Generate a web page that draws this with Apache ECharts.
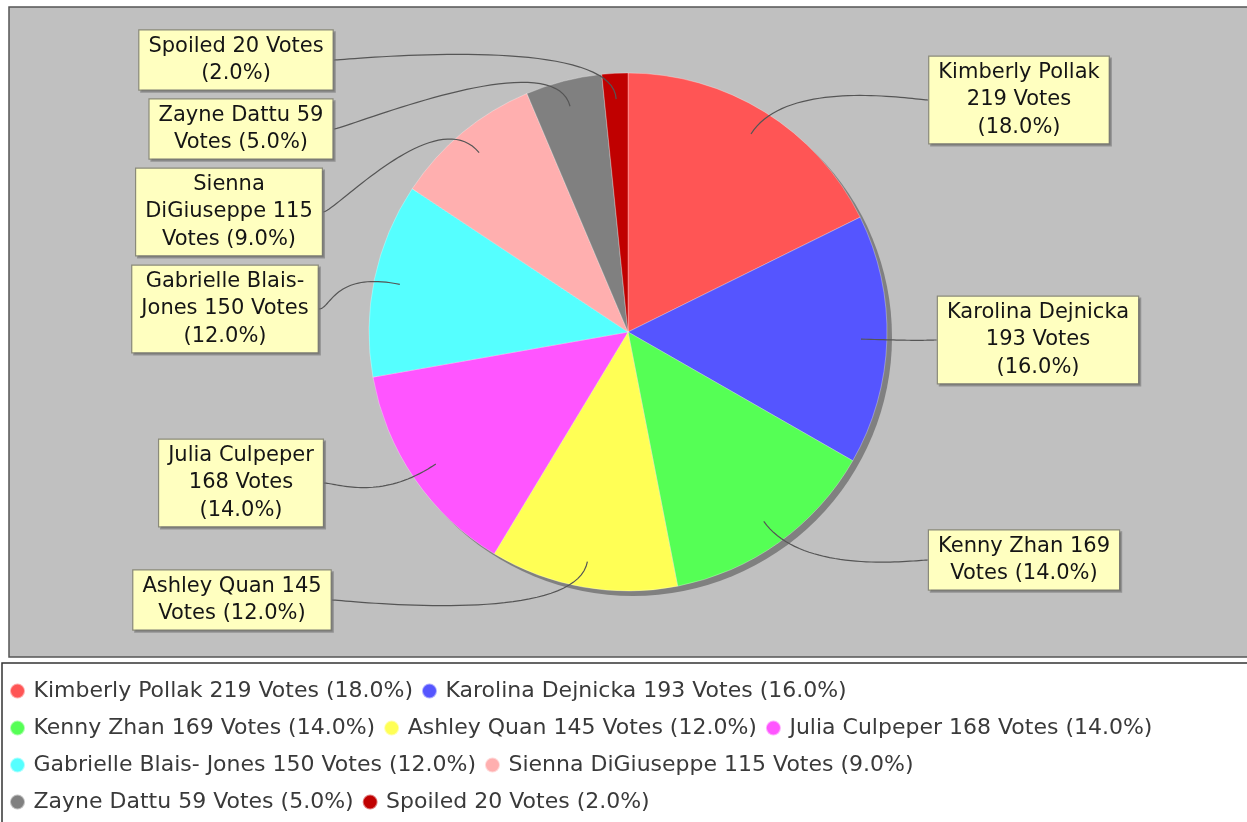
<!DOCTYPE html>
<html lang="en">
<head>
    <meta charset="UTF-8">
    <title>Votes</title>
    <script src="https://cdn.jsdelivr.net/npm/echarts@6/dist/echarts.min.js"></script>
</head>
<style>
    html,body{
        margin:0;
        padding:0;
        background:#fff;
    }
    #main{
        width:1247px;
        height:822px;
    }
</style>
<body>
<div id="main"></div>
</body>
<script>
    // candidates, in the order the slices go round
    var names = ['Kimberly Pollak', 'Karolina Dejnicka', 'Kenny Zhan', 'Ashley Quan', 'Julia Culpeper',
        'Gabrielle Blais- Jones', 'Sienna DiGiuseppe', 'Zayne Dattu', 'Spoiled'];
    var votes = [219, 193, 169, 145, 168, 150, 115, 59, 20];
    var colors = ['#FF5555', '#5555FF', '#55FF55', '#FFFF55', '#FF55FF', '#55FFFF', '#FFAFAF', '#808080', '#C00000'];
    // how the slice labels wrap
    var labelText = [
        'Kimberly Pollak\n219 Votes\n(18.0%)',
        'Karolina Dejnicka\n193 Votes\n(16.0%)',
        'Kenny Zhan 169\nVotes (14.0%)',
        'Ashley Quan 145\nVotes (12.0%)',
        'Julia Culpeper\n168 Votes\n(14.0%)',
        'Gabrielle Blais-\nJones 150 Votes\n(12.0%)',
        'Sienna\nDiGiuseppe 115\nVotes (9.0%)',
        'Zayne Dattu 59\nVotes (5.0%)',
        'Spoiled 20 Votes\n(2.0%)'
    ];
    // legend rows
    var legendRows = [
        ['Kimberly Pollak', 'Karolina Dejnicka'],
        ['Kenny Zhan', 'Ashley Quan', 'Julia Culpeper'],
        ['Gabrielle Blais- Jones', 'Sienna DiGiuseppe'],
        ['Zayne Dattu', 'Spoiled']
    ];

    // layout
    var cx = 628, cy = 332, R = 259;
    var elbowR = 300;   // where the link curves bend
    var labelPos = [[1019, 100], [1038, 340], [1024, 560], [232, 600], [241, 483],
        [225, 309], [229, 212], [241, 129], [236, 60]];
    var font = 'DejaVu Sans';

    var total = 0;
    for (var i = 0; i < votes.length; i++) total += votes[i];
    function pct(v) {
        return Math.round(v / total * 100).toFixed(1) + '%';
    }

    var pieData = [];
    var labelData = [];
    for (var i = 0; i < names.length; i++) {
        pieData.push({name: names[i], value: votes[i], itemStyle: {color: colors[i]}});
        labelData.push({name: names[i], value: votes[i], itemStyle: {color: 'rgba(0,0,0,0)'}});
    }

    var legends = [];
    for (var r = 0; r < legendRows.length; r++) {
        legends.push({
            data: legendRows[r],
            orient: 'horizontal',
            left: 9,
            top: 680 + r * 37,
            padding: 0,
            icon: 'circle',
            itemWidth: 16,
            itemHeight: 15,
            itemGap: 8,
            selectedMode: false,
            textStyle: {fontFamily: font, fontSize: 22, color: '#3a3a3a', padding: [0, 0, 0, 3]},
            formatter: function (name) {
                var v = votes[names.indexOf(name)];
                return name + ' ' + v + ' Votes (' + pct(v) + ')';
            }
        });
    }

    // cubic link from the label edge to the point inside the slice
    function linkCurve(p0, c1, c2, p3) {
        var pts = [];
        for (var k = 0; k <= 40; k++) {
            var t = k / 40, u = 1 - t;
            pts.push([
                u * u * u * p0[0] + 3 * u * u * t * c1[0] + 3 * u * t * t * c2[0] + t * t * t * p3[0],
                u * u * u * p0[1] + 3 * u * u * t * c1[1] + 3 * u * t * t * c2[1] + t * t * t * p3[1]
            ]);
        }
        return pts;
    }

    var myChart = echarts.init(document.getElementById('main'));
    myChart.setOption({
        animation: false,
        backgroundColor: '#fff',
        graphic: [
            {type: 'rect', z: -10, shape: {x: 9, y: 7, width: 1260, height: 650},
                style: {fill: '#C0C0C0', stroke: '#555', lineWidth: 1.5}},
            {type: 'rect', z: -10, shape: {x: 2, y: 663, width: 1270, height: 200},
                style: {fill: '#fff', stroke: '#333', lineWidth: 1.5}}
        ],
        legend: legends,
        series: [
            {
                // drop shadow of the pie
                type: 'pie',
                silent: true,
                z: 1,
                center: [cx + 5, cy + 5],
                radius: R,
                label: {show: false},
                labelLine: {show: false},
                data: [{name: '', value: total, itemStyle: {color: '#808080'}}]
            },
            {
                type: 'pie',
                z: 2,
                center: [cx, cy],
                radius: R,
                startAngle: 90,
                clockwise: true,
                silent: true,
                itemStyle: {borderColor: 'rgba(255,255,255,0.5)', borderWidth: 0.6},
                label: {show: false},
                labelLine: {show: false},
                data: pieData
            },
            {
                // carries the labels, links start at 90% of the radius
                type: 'pie',
                z: 5,
                center: [cx, cy],
                radius: R * 0.9,
                startAngle: 90,
                clockwise: true,
                silent: true,
                avoidLabelOverlap: false,
                label: {
                    show: true,
                    position: 'outside',
                    formatter: function (p) {
                        return labelText[p.dataIndex];
                    },
                    fontFamily: font,
                    fontSize: 21,
                    lineHeight: 27.5,
                    color: '#151515',
                    align: 'center',
                    backgroundColor: '#FFFFC0',
                    borderColor: '#8a8a7a',
                    borderWidth: 1.2,
                    padding: [2, 9, 2, 9],
                    shadowColor: 'rgba(110,110,110,0.55)',
                    shadowOffsetX: 2,
                    shadowOffsetY: 2
                },
                labelLine: {
                    show: true,
                    length: elbowR - R * 0.9,
                    length2: 10,
                    lineStyle: {color: '#555', width: 1.2}
                },
                labelLayout: function (p) {
                    var pos = labelPos[p.dataIndex];
                    var w = p.labelRect.width;
                    var side = pos[0] < cx ? 1 : -1;
                    var p0 = [pos[0] + side * w / 2, pos[1]];
                    var c1 = [p0[0] + side * 12, p0[1]];
                    var start = p.labelLinePoints[0];
                    var elbow = p.labelLinePoints[1];
                    return {
                        x: pos[0],
                        y: pos[1],
                        align: 'center',
                        verticalAlign: 'middle',
                        labelLinePoints: linkCurve(p0, c1, elbow, start)
                    };
                },
                data: labelData
            }
        ]
    });
</script>
</html>
